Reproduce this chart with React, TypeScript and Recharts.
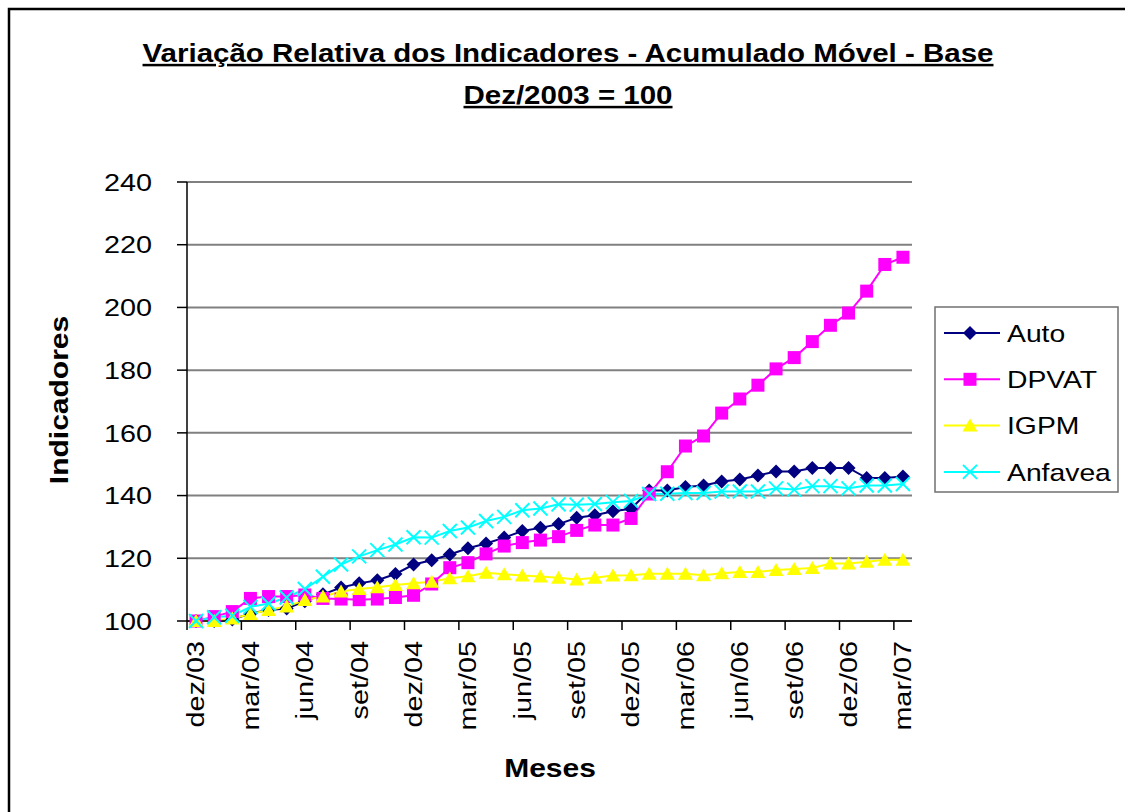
import { CartesianGrid, Legend, Line, LineChart, XAxis, YAxis } from 'recharts'

const months = [
  'dez/03', 'jan/04', 'fev/04', 'mar/04', 'abr/04', 'mai/04', 'jun/04', 'jul/04', 'ago/04', 'set/04',
  'out/04', 'nov/04', 'dez/04', 'jan/05', 'fev/05', 'mar/05', 'abr/05', 'mai/05', 'jun/05', 'jul/05',
  'ago/05', 'set/05', 'out/05', 'nov/05', 'dez/05', 'jan/06', 'fev/06', 'mar/06', 'abr/06', 'mai/06',
  'jun/06', 'jul/06', 'ago/06', 'set/06', 'out/06', 'nov/06', 'dez/06', 'jan/07', 'fev/07', 'mar/07',
]

const auto = [
  100, 100, 100.5, 102.4, 103.5, 104, 106.3, 108.5, 110.7, 112,
  113, 115, 118, 119.4, 121.2, 123.2, 124.7, 126.6, 128.7, 129.7,
  130.9, 132.9, 133.7, 135, 135.8, 141.6, 141.6, 142.7, 143.2, 144.5,
  145.1, 146.4, 147.7, 147.7, 148.8, 148.8, 148.8, 145.6, 145.6, 146.1,
]

const dpvat = [
  100, 101.4, 103, 107.2, 107.8, 107.8, 108.3, 107.2, 107, 106.8,
  107, 107.5, 108.2, 111.8, 117, 118.6, 121.4, 123.9, 125, 125.8,
  126.9, 128.9, 130.6, 130.6, 132.7, 140.5, 147.6, 155.8, 159, 166.3,
  170.8, 175.2, 180.4, 184, 189.1, 194.3, 198.2, 205.2, 213.7, 216,
]

const igpm = [
  100, 100, 100.8, 102.2, 103.5, 104.6, 106.7, 107.8, 109.4, 110.2,
  110.8, 111.5, 112, 112.5, 113.6, 114.3, 115.4, 114.9, 114.5, 114.2,
  113.8, 113.2, 113.8, 114.5, 114.6, 115.1, 115.1, 115.1, 114.6, 115.2,
  115.6, 115.6, 116.3, 116.6, 116.9, 118.3, 118.3, 118.9, 119.5, 119.5,
]

const anfavea = [
  100, 101.2, 101.7, 104.5, 105.6, 107.5, 110.2, 114.1, 118, 120.6,
  122.6, 124.4, 126.7, 126.6, 128.7, 129.8, 131.9, 133.2, 135.3, 135.9,
  137.2, 137.1, 137.3, 137.9, 138.3, 140.5, 140.6, 140.8, 140.8, 141.3,
  141.3, 141.3, 142.3, 141.9, 143, 143, 142.3, 143.2, 143.2, 143.7,
]

const yTicks = [100, 120, 140, 160, 180, 200, 220, 240]
const series = ['Auto', 'DPVAT', 'IGPM', 'Anfavea']

const data = months.map((m, i) => ({
  m,
  Auto: auto[i],
  DPVAT: dpvat[i],
  IGPM: igpm[i],
  Anfavea: anfavea[i],
}))

const FONT = '"Liberation Sans", Arial, sans-serif'
const W = 1125
const H = 812
const plotLeft = 187
const plotRight = 912
const plotTop = 182
const plotBottom = 621
const band = (plotRight - plotLeft) / months.length

const colors: Record<string, string> = {
  Auto: '#000080',
  DPVAT: '#ff00ff',
  IGPM: '#ffff00',
  Anfavea: '#00ffff',
}

function marker(key: string, cx: number, cy: number, k?: string) {
  const c = colors[key]
  if (key === 'Auto')
    return <path key={k} d={`M${cx},${cy - 7}L${cx + 7},${cy}L${cx},${cy + 7}L${cx - 7},${cy}Z`} fill={c} />
  if (key === 'DPVAT') return <rect key={k} x={cx - 6.5} y={cy - 6.5} width={13} height={13} fill={c} />
  if (key === 'IGPM')
    return <path key={k} d={`M${cx},${cy - 7}L${cx + 7.5},${cy + 6}L${cx - 7.5},${cy + 6}Z`} fill={c} />
  return (
    <g key={k}>
      <line x1={cx - 7} y1={cy - 7} x2={cx + 7} y2={cy + 7} stroke={c} strokeWidth={2} />
      <line x1={cx - 7} y1={cy + 7} x2={cx + 7} y2={cy - 7} stroke={c} strokeWidth={2} />
    </g>
  )
}

const dotFor = (key: string) => (p: any) => {
  if (p.cx == null || p.cy == null) return <g key={`${key}-${p.index}`} />
  return marker(key, p.cx, p.cy, `${key}-${p.index}`)
}

function XTick(props: any) {
  const { x, y, payload } = props
  const bx = x - band / 2
  return (
    <g>
      <line x1={bx} y1={y} x2={bx} y2={y + 9} stroke="#000" strokeWidth={1.5} />
      <g transform={`translate(${x},${y + 20}) rotate(-90) scale(1.2,1)`}>
        <text x={0} y={0} dy="0.35em" textAnchor="end" fontSize={24} fontFamily={FONT} fill="#000">
          {payload.value}
        </text>
      </g>
    </g>
  )
}

function YTick(props: any) {
  const { x, y, payload } = props
  return (
    <g transform={`translate(${x},${y}) scale(1.2,1)`}>
      <text x={0} y={0} dy="0.36em" textAnchor="end" fontSize={24} fontFamily={FONT} fill="#000">
        {payload.value}
      </text>
    </g>
  )
}

function LegendBox({ payload }: any) {
  const items = [...((payload || []) as any[])].sort(
    (a, b) => series.indexOf(String(a.dataKey)) - series.indexOf(String(b.dataKey)),
  )
  return (
    <svg width={186} height={188} style={{ display: 'block' }}>
      <rect x={1} y={1} width={183} height={185} fill="#fff" stroke="#707070" strokeWidth={1.5} />
      {items.map((it, i) => {
        const cy = 27 + i * 46.3
        const key = String(it.dataKey)
        return (
          <g key={key}>
            <line x1={10} y1={cy} x2={66} y2={cy} stroke={colors[key]} strokeWidth={2} />
            {marker(key, 36, cy)}
            <g transform={`translate(73,${cy}) scale(1.18,1)`}>
              <text x={0} y={0} dy="0.36em" fontSize={24} fontFamily={FONT} fill="#000">
                {it.value}
              </text>
            </g>
          </g>
        )
      })}
    </svg>
  )
}

export default function App() {
  return (
    <div style={{ position: 'absolute', left: 0, top: 0, width: W, height: H, overflow: 'hidden', background: '#fff' }}>
      <LineChart
        width={W}
        height={H}
        data={data}
        margin={{ top: plotTop, right: W - plotRight, bottom: 0, left: 0 }}
      >
        <CartesianGrid vertical={false} stroke="#808080" strokeWidth={2} />
        <XAxis
          dataKey="m"
          scale="band"
          height={H - plotBottom}
          interval={2}
          tickLine={false}
          tickSize={0}
          tickMargin={0}
          axisLine={{ stroke: '#000', strokeWidth: 1.5 }}
          tick={<XTick />}
        />
        <YAxis
          width={plotLeft}
          domain={[100, 240]}
          ticks={yTicks}
          interval={0}
          tickSize={10}
          tickMargin={25}
          tickLine={{ stroke: '#000', strokeWidth: 1.5 }}
          axisLine={{ stroke: '#000', strokeWidth: 1.5 }}
          tick={<YTick />}
        />
        <YAxis
          yAxisId="r"
          orientation="right"
          width={0}
          domain={[100, 240]}
          tick={false}
          tickLine={false}
          axisLine={{ stroke: '#808080', strokeWidth: 2 }}
        />
        <Legend
          layout="vertical"
          align="center"
          verticalAlign="middle"
          content={<LegendBox />}
          wrapperStyle={{ position: 'absolute', left: 934, top: 306, width: 186, height: 188 }}
        />
        {series.map((s) => (
          <Line
            key={s}
            type="linear"
            dataKey={s}
            stroke={colors[s]}
            strokeWidth={2}
            dot={dotFor(s)}
            activeDot={false}
            isAnimationActive={false}
          />
        ))}
      </LineChart>
      <svg
        width={W}
        height={H}
        style={{ position: 'absolute', left: 0, top: 0, pointerEvents: 'none' }}
      >
        <rect x={9} y={9} width={W} height={H} fill="none" stroke="#000" strokeWidth={2.5} />
        <g transform="translate(568,62) scale(1.18,1)">
          <text x={0} y={0} textAnchor="middle" fontSize={25} fontWeight="bold" fontFamily={FONT} textDecoration="underline">
            Variação Relativa dos Indicadores - Acumulado Móvel - Base
          </text>
        </g>
        <g transform="translate(568,104) scale(1.18,1)">
          <text x={0} y={0} textAnchor="middle" fontSize={25} fontWeight="bold" fontFamily={FONT} textDecoration="underline">
            Dez/2003 = 100
          </text>
        </g>
        <g transform="translate(59,400) rotate(-90) scale(1.2,1)">
          <text x={0} y={0} dy="0.36em" textAnchor="middle" fontSize={25} fontWeight="bold" fontFamily={FONT}>
            Indicadores
          </text>
        </g>
        <g transform="translate(550,768) scale(1.2,1)">
          <text x={0} y={0} dy="0.36em" textAnchor="middle" fontSize={25} fontWeight="bold" fontFamily={FONT}>
            Meses
          </text>
        </g>
      </svg>
    </div>
  )
}
